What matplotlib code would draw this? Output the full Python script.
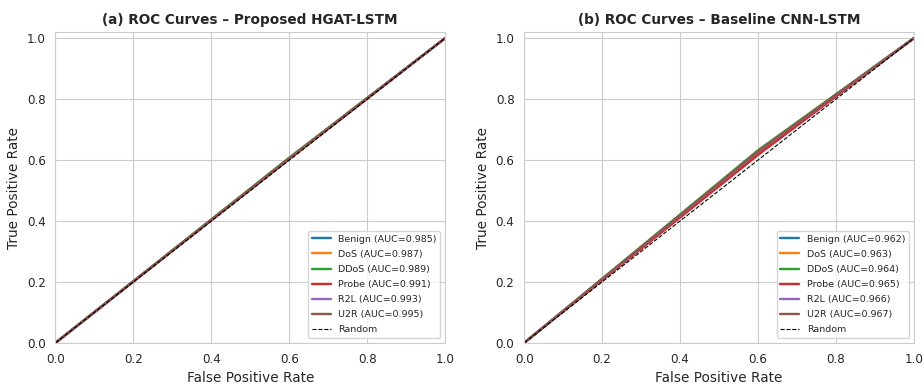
import matplotlib
matplotlib.use('Agg')
import matplotlib.pyplot as plt
import seaborn as sns

sns.set_style('whitegrid')

classes = ['Benign', 'DoS', 'DDoS', 'Probe', 'R2L', 'U2R']
colors = ['#1f77b4', '#ff7f0e', '#2ca02c', '#d62728', '#9467bd', '#8c564b']

# (a) proposed model: ROC points per class (fpr, tpr)
auc_a = [0.985, 0.987, 0.989, 0.991, 0.993, 0.995]
fpr_a = [[0.0, 0.6, 1.0]] * 6
tpr_a = [[0.0, 0.604, 1.0], [0.0, 0.605, 1.0], [0.0, 0.608, 1.0],
         [0.0, 0.603, 1.0], [0.0, 0.605, 1.0], [0.0, 0.606, 1.0]]

# (b) baseline model
auc_b = [0.962, 0.963, 0.964, 0.965, 0.966, 0.967]
fpr_b = [[0.0, 0.6, 1.0]] * 6
tpr_b = [[0.0, 0.624, 1.0], [0.0, 0.627, 1.0], [0.0, 0.632, 1.0],
         [0.0, 0.617, 1.0], [0.0, 0.627, 1.0], [0.0, 0.629, 1.0]]

fig, axes = plt.subplots(1, 2, figsize=(9.24, 3.87), dpi=100)
plt.subplots_adjust(left=0.06, right=0.989, top=0.917, bottom=0.114, wspace=0.203)

panels = [
    (axes[0], fpr_a, tpr_a, auc_a, '(a) ROC Curves – Proposed HGAT-LSTM'),
    (axes[1], fpr_b, tpr_b, auc_b, '(b) ROC Curves – Baseline CNN-LSTM'),
]

for ax, fprs, tprs, aucs, title in panels:
    for name, c, f, t, a in zip(classes, colors, fprs, tprs, aucs):
        ax.plot(f, t, color=c, lw=1.7, label=f'{name} (AUC={a:.3f})')
    ax.plot([0, 1], [0, 1], 'k--', lw=0.8, label='Random')
    ax.set_xlim(0, 1)
    ax.set_ylim(0, 1.02)
    ax.set_xlabel('False Positive Rate', fontsize=9.8)
    ax.set_ylabel('True Positive Rate', fontsize=9.8)
    ax.set_title(title, fontsize=9.8, fontweight='bold')
    ax.tick_params(labelsize=8.6)
    ax.legend(loc='lower right', fontsize=6.8, labelspacing=0.65, frameon=True)

plt.savefig('out.png', dpi=100)
